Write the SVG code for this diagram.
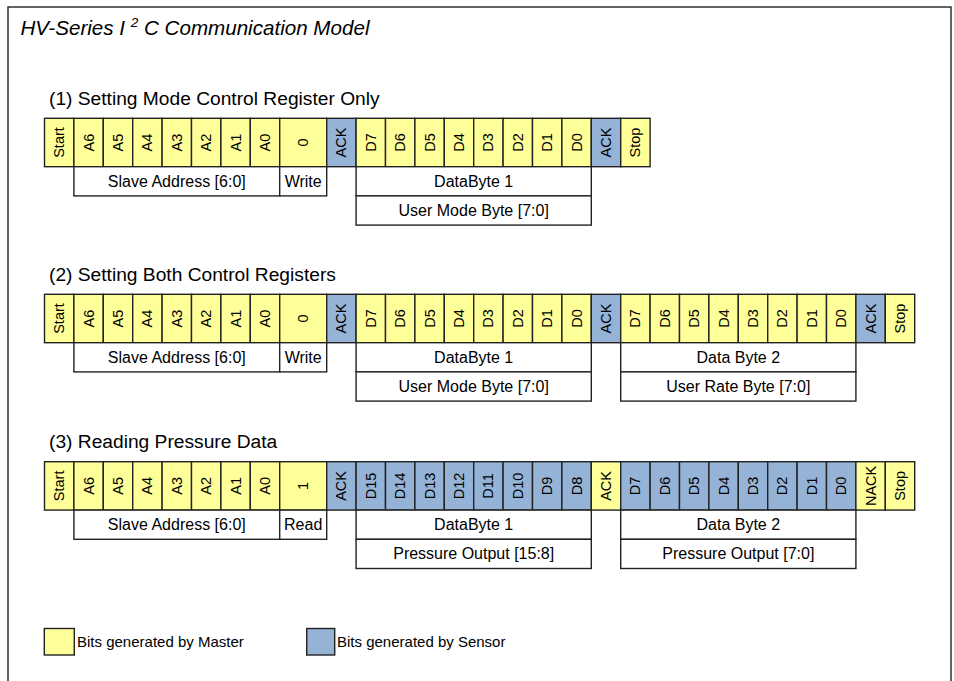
<svg xmlns="http://www.w3.org/2000/svg" width="954" height="681" viewBox="0 0 954 681">
<style>
rect{stroke:#222;stroke-width:1.4}
.m{fill:#ffff99}
.s{fill:#95b3d7}
.w{fill:#fff}
text{font-family:"Liberation Sans",Arial,sans-serif;fill:#000}
.c{font-size:14.5px;text-anchor:middle;dominant-baseline:central}
.l{font-size:16px;text-anchor:middle}
.h{font-size:19.2px}
.g{font-size:15px}
</style>
<rect x="8" y="7" width="943" height="700" fill="#fff" stroke="#333" stroke-width="1.6"/>
<text x="20.5" y="35" style="font-size:20.6px;font-style:italic">HV-Series I <tspan dy="-8" style="font-size:13.5px">2</tspan><tspan dy="8"> C Communication Model</tspan></text>

<!-- Row 1 -->
<g id="row1" transform="translate(0,118.3)">
<text class="h" x="49" y="-13">(1) Setting Mode Control Register Only</text>
<g id="r1-start"><rect class="m" x="44.5" y="0" width="29.4" height="48.4"/><text class="c" transform="translate(59.2,24.2) rotate(-90)">Start</text></g>
<g id="r1-a6"><rect class="m" x="73.9" y="0" width="29.4" height="48.4"/><text class="c" transform="translate(88.6,24.2) rotate(-90)">A6</text></g>
<g id="r1-a5"><rect class="m" x="103.3" y="0" width="29.4" height="48.4"/><text class="c" transform="translate(118,24.2) rotate(-90)">A5</text></g>
<g id="r1-a4"><rect class="m" x="132.7" y="0" width="29.4" height="48.4"/><text class="c" transform="translate(147.4,24.2) rotate(-90)">A4</text></g>
<g id="r1-a3"><rect class="m" x="162.1" y="0" width="29.4" height="48.4"/><text class="c" transform="translate(176.8,24.2) rotate(-90)">A3</text></g>
<g id="r1-a2"><rect class="m" x="191.5" y="0" width="29.4" height="48.4"/><text class="c" transform="translate(206.2,24.2) rotate(-90)">A2</text></g>
<g id="r1-a1"><rect class="m" x="220.9" y="0" width="29.4" height="48.4"/><text class="c" transform="translate(235.6,24.2) rotate(-90)">A1</text></g>
<g id="r1-a0"><rect class="m" x="250.3" y="0" width="29.4" height="48.4"/><text class="c" transform="translate(265,24.2) rotate(-90)">A0</text></g>
<g id="r1-rw"><rect class="m" x="279.7" y="0" width="47" height="48.4"/><text class="c" transform="translate(303.2,24.2) rotate(-90)">0</text></g>
<g id="r1-ack1"><rect class="s" x="326.7" y="0" width="29.4" height="48.4"/><text class="c" transform="translate(341.4,24.2) rotate(-90)">ACK</text></g>
<g id="r1-d7"><rect class="m" x="356.1" y="0" width="29.4" height="48.4"/><text class="c" transform="translate(370.8,24.2) rotate(-90)">D7</text></g>
<g id="r1-d6"><rect class="m" x="385.5" y="0" width="29.4" height="48.4"/><text class="c" transform="translate(400.2,24.2) rotate(-90)">D6</text></g>
<g id="r1-d5"><rect class="m" x="414.9" y="0" width="29.4" height="48.4"/><text class="c" transform="translate(429.6,24.2) rotate(-90)">D5</text></g>
<g id="r1-d4"><rect class="m" x="444.3" y="0" width="29.4" height="48.4"/><text class="c" transform="translate(459,24.2) rotate(-90)">D4</text></g>
<g id="r1-d3"><rect class="m" x="473.7" y="0" width="29.4" height="48.4"/><text class="c" transform="translate(488.4,24.2) rotate(-90)">D3</text></g>
<g id="r1-d2"><rect class="m" x="503.1" y="0" width="29.4" height="48.4"/><text class="c" transform="translate(517.8,24.2) rotate(-90)">D2</text></g>
<g id="r1-d1"><rect class="m" x="532.5" y="0" width="29.4" height="48.4"/><text class="c" transform="translate(547.2,24.2) rotate(-90)">D1</text></g>
<g id="r1-d0"><rect class="m" x="561.9" y="0" width="29.4" height="48.4"/><text class="c" transform="translate(576.6,24.2) rotate(-90)">D0</text></g>
<g id="r1-ack2"><rect class="s" x="591.3" y="0" width="29.4" height="48.4"/><text class="c" transform="translate(606,24.2) rotate(-90)">ACK</text></g>
<g id="r1-stop"><rect class="m" x="620.7" y="0" width="29.4" height="48.4"/><text class="c" transform="translate(635.4,24.2) rotate(-90)">Stop</text></g>
<g id="r1-addr"><rect class="w" x="73.9" y="48.4" width="205.8" height="29.2"/><text class="l" x="176.8" y="68.4">Slave Address [6:0]</text></g>
<g id="r1-write"><rect class="w" x="279.7" y="48.4" width="47" height="29.2"/><text class="l" x="303.2" y="68.4">Write</text></g>
<g id="r1-db1"><rect class="w" x="356.1" y="48.4" width="235.2" height="29.2"/><text class="l" x="473.7" y="68.4">DataByte 1</text></g>
<g id="r1-umb"><rect class="w" x="356.1" y="77.6" width="235.2" height="29.2"/><text class="l" x="473.7" y="97.6">User Mode Byte [7:0]</text></g>
</g>

<!-- Row 2 -->
<g id="row2" transform="translate(0,294.3)">
<text class="h" x="49" y="-13.3">(2) Setting Both Control Registers</text>
<g id="r2-start"><rect class="m" x="44.5" y="0" width="29.4" height="48.4"/><text class="c" transform="translate(59.2,24.2) rotate(-90)">Start</text></g>
<g id="r2-a6"><rect class="m" x="73.9" y="0" width="29.4" height="48.4"/><text class="c" transform="translate(88.6,24.2) rotate(-90)">A6</text></g>
<g id="r2-a5"><rect class="m" x="103.3" y="0" width="29.4" height="48.4"/><text class="c" transform="translate(118,24.2) rotate(-90)">A5</text></g>
<g id="r2-a4"><rect class="m" x="132.7" y="0" width="29.4" height="48.4"/><text class="c" transform="translate(147.4,24.2) rotate(-90)">A4</text></g>
<g id="r2-a3"><rect class="m" x="162.1" y="0" width="29.4" height="48.4"/><text class="c" transform="translate(176.8,24.2) rotate(-90)">A3</text></g>
<g id="r2-a2"><rect class="m" x="191.5" y="0" width="29.4" height="48.4"/><text class="c" transform="translate(206.2,24.2) rotate(-90)">A2</text></g>
<g id="r2-a1"><rect class="m" x="220.9" y="0" width="29.4" height="48.4"/><text class="c" transform="translate(235.6,24.2) rotate(-90)">A1</text></g>
<g id="r2-a0"><rect class="m" x="250.3" y="0" width="29.4" height="48.4"/><text class="c" transform="translate(265,24.2) rotate(-90)">A0</text></g>
<g id="r2-rw"><rect class="m" x="279.7" y="0" width="47" height="48.4"/><text class="c" transform="translate(303.2,24.2) rotate(-90)">0</text></g>
<g id="r2-ack1"><rect class="s" x="326.7" y="0" width="29.4" height="48.4"/><text class="c" transform="translate(341.4,24.2) rotate(-90)">ACK</text></g>
<g id="r2-d7"><rect class="m" x="356.1" y="0" width="29.4" height="48.4"/><text class="c" transform="translate(370.8,24.2) rotate(-90)">D7</text></g>
<g id="r2-d6"><rect class="m" x="385.5" y="0" width="29.4" height="48.4"/><text class="c" transform="translate(400.2,24.2) rotate(-90)">D6</text></g>
<g id="r2-d5"><rect class="m" x="414.9" y="0" width="29.4" height="48.4"/><text class="c" transform="translate(429.6,24.2) rotate(-90)">D5</text></g>
<g id="r2-d4"><rect class="m" x="444.3" y="0" width="29.4" height="48.4"/><text class="c" transform="translate(459,24.2) rotate(-90)">D4</text></g>
<g id="r2-d3"><rect class="m" x="473.7" y="0" width="29.4" height="48.4"/><text class="c" transform="translate(488.4,24.2) rotate(-90)">D3</text></g>
<g id="r2-d2"><rect class="m" x="503.1" y="0" width="29.4" height="48.4"/><text class="c" transform="translate(517.8,24.2) rotate(-90)">D2</text></g>
<g id="r2-d1"><rect class="m" x="532.5" y="0" width="29.4" height="48.4"/><text class="c" transform="translate(547.2,24.2) rotate(-90)">D1</text></g>
<g id="r2-d0"><rect class="m" x="561.9" y="0" width="29.4" height="48.4"/><text class="c" transform="translate(576.6,24.2) rotate(-90)">D0</text></g>
<g id="r2-ack2"><rect class="s" x="591.3" y="0" width="29.4" height="48.4"/><text class="c" transform="translate(606,24.2) rotate(-90)">ACK</text></g>
<g id="r2-e7"><rect class="m" x="620.7" y="0" width="29.4" height="48.4"/><text class="c" transform="translate(635.4,24.2) rotate(-90)">D7</text></g>
<g id="r2-e6"><rect class="m" x="650.1" y="0" width="29.4" height="48.4"/><text class="c" transform="translate(664.8,24.2) rotate(-90)">D6</text></g>
<g id="r2-e5"><rect class="m" x="679.5" y="0" width="29.4" height="48.4"/><text class="c" transform="translate(694.2,24.2) rotate(-90)">D5</text></g>
<g id="r2-e4"><rect class="m" x="708.9" y="0" width="29.4" height="48.4"/><text class="c" transform="translate(723.6,24.2) rotate(-90)">D4</text></g>
<g id="r2-e3"><rect class="m" x="738.3" y="0" width="29.4" height="48.4"/><text class="c" transform="translate(753,24.2) rotate(-90)">D3</text></g>
<g id="r2-e2"><rect class="m" x="767.7" y="0" width="29.4" height="48.4"/><text class="c" transform="translate(782.4,24.2) rotate(-90)">D2</text></g>
<g id="r2-e1"><rect class="m" x="797.1" y="0" width="29.4" height="48.4"/><text class="c" transform="translate(811.8,24.2) rotate(-90)">D1</text></g>
<g id="r2-e0"><rect class="m" x="826.5" y="0" width="29.4" height="48.4"/><text class="c" transform="translate(841.2,24.2) rotate(-90)">D0</text></g>
<g id="r2-ack3"><rect class="s" x="855.9" y="0" width="29.4" height="48.4"/><text class="c" transform="translate(870.6,24.2) rotate(-90)">ACK</text></g>
<g id="r2-stop"><rect class="m" x="885.3" y="0" width="29.4" height="48.4"/><text class="c" transform="translate(900,24.2) rotate(-90)">Stop</text></g>
<g id="r2-addr"><rect class="w" x="73.9" y="48.4" width="205.8" height="29.2"/><text class="l" x="176.8" y="68.4">Slave Address [6:0]</text></g>
<g id="r2-write"><rect class="w" x="279.7" y="48.4" width="47" height="29.2"/><text class="l" x="303.2" y="68.4">Write</text></g>
<g id="r2-db1"><rect class="w" x="356.1" y="48.4" width="235.2" height="29.2"/><text class="l" x="473.7" y="68.4">DataByte 1</text></g>
<g id="r2-umb"><rect class="w" x="356.1" y="77.6" width="235.2" height="29.2"/><text class="l" x="473.7" y="97.6">User Mode Byte [7:0]</text></g>
<g id="r2-db2"><rect class="w" x="620.7" y="48.4" width="235.2" height="29.2"/><text class="l" x="738.3" y="68.4">Data Byte 2</text></g>
<g id="r2-urb"><rect class="w" x="620.7" y="77.6" width="235.2" height="29.2"/><text class="l" x="738.3" y="97.6">User Rate Byte [7:0]</text></g>
</g>

<!-- Row 3 -->
<g id="row3" transform="translate(0,461.7)">
<text class="h" x="49" y="-13.7">(3) Reading Pressure Data</text>
<g id="r3-start"><rect class="m" x="44.5" y="0" width="29.4" height="48.4"/><text class="c" transform="translate(59.2,24.2) rotate(-90)">Start</text></g>
<g id="r3-a6"><rect class="m" x="73.9" y="0" width="29.4" height="48.4"/><text class="c" transform="translate(88.6,24.2) rotate(-90)">A6</text></g>
<g id="r3-a5"><rect class="m" x="103.3" y="0" width="29.4" height="48.4"/><text class="c" transform="translate(118,24.2) rotate(-90)">A5</text></g>
<g id="r3-a4"><rect class="m" x="132.7" y="0" width="29.4" height="48.4"/><text class="c" transform="translate(147.4,24.2) rotate(-90)">A4</text></g>
<g id="r3-a3"><rect class="m" x="162.1" y="0" width="29.4" height="48.4"/><text class="c" transform="translate(176.8,24.2) rotate(-90)">A3</text></g>
<g id="r3-a2"><rect class="m" x="191.5" y="0" width="29.4" height="48.4"/><text class="c" transform="translate(206.2,24.2) rotate(-90)">A2</text></g>
<g id="r3-a1"><rect class="m" x="220.9" y="0" width="29.4" height="48.4"/><text class="c" transform="translate(235.6,24.2) rotate(-90)">A1</text></g>
<g id="r3-a0"><rect class="m" x="250.3" y="0" width="29.4" height="48.4"/><text class="c" transform="translate(265,24.2) rotate(-90)">A0</text></g>
<g id="r3-rw"><rect class="m" x="279.7" y="0" width="47" height="48.4"/><text class="c" transform="translate(303.2,24.2) rotate(-90)">1</text></g>
<g id="r3-ack1"><rect class="s" x="326.7" y="0" width="29.4" height="48.4"/><text class="c" transform="translate(341.4,24.2) rotate(-90)">ACK</text></g>
<g id="r3-d15"><rect class="s" x="356.1" y="0" width="29.4" height="48.4"/><text class="c" transform="translate(370.8,24.2) rotate(-90)">D15</text></g>
<g id="r3-d14"><rect class="s" x="385.5" y="0" width="29.4" height="48.4"/><text class="c" transform="translate(400.2,24.2) rotate(-90)">D14</text></g>
<g id="r3-d13"><rect class="s" x="414.9" y="0" width="29.4" height="48.4"/><text class="c" transform="translate(429.6,24.2) rotate(-90)">D13</text></g>
<g id="r3-d12"><rect class="s" x="444.3" y="0" width="29.4" height="48.4"/><text class="c" transform="translate(459,24.2) rotate(-90)">D12</text></g>
<g id="r3-d11"><rect class="s" x="473.7" y="0" width="29.4" height="48.4"/><text class="c" transform="translate(488.4,24.2) rotate(-90)">D11</text></g>
<g id="r3-d10"><rect class="s" x="503.1" y="0" width="29.4" height="48.4"/><text class="c" transform="translate(517.8,24.2) rotate(-90)">D10</text></g>
<g id="r3-d9"><rect class="s" x="532.5" y="0" width="29.4" height="48.4"/><text class="c" transform="translate(547.2,24.2) rotate(-90)">D9</text></g>
<g id="r3-d8"><rect class="s" x="561.9" y="0" width="29.4" height="48.4"/><text class="c" transform="translate(576.6,24.2) rotate(-90)">D8</text></g>
<g id="r3-ack2"><rect class="m" x="591.3" y="0" width="29.4" height="48.4"/><text class="c" transform="translate(606,24.2) rotate(-90)">ACK</text></g>
<g id="r3-d7"><rect class="s" x="620.7" y="0" width="29.4" height="48.4"/><text class="c" transform="translate(635.4,24.2) rotate(-90)">D7</text></g>
<g id="r3-d6"><rect class="s" x="650.1" y="0" width="29.4" height="48.4"/><text class="c" transform="translate(664.8,24.2) rotate(-90)">D6</text></g>
<g id="r3-d5"><rect class="s" x="679.5" y="0" width="29.4" height="48.4"/><text class="c" transform="translate(694.2,24.2) rotate(-90)">D5</text></g>
<g id="r3-d4"><rect class="s" x="708.9" y="0" width="29.4" height="48.4"/><text class="c" transform="translate(723.6,24.2) rotate(-90)">D4</text></g>
<g id="r3-d3"><rect class="s" x="738.3" y="0" width="29.4" height="48.4"/><text class="c" transform="translate(753,24.2) rotate(-90)">D3</text></g>
<g id="r3-d2"><rect class="s" x="767.7" y="0" width="29.4" height="48.4"/><text class="c" transform="translate(782.4,24.2) rotate(-90)">D2</text></g>
<g id="r3-d1"><rect class="s" x="797.1" y="0" width="29.4" height="48.4"/><text class="c" transform="translate(811.8,24.2) rotate(-90)">D1</text></g>
<g id="r3-d0"><rect class="s" x="826.5" y="0" width="29.4" height="48.4"/><text class="c" transform="translate(841.2,24.2) rotate(-90)">D0</text></g>
<g id="r3-nack"><rect class="m" x="855.9" y="0" width="29.4" height="48.4"/><text class="c" transform="translate(870.6,24.2) rotate(-90)">NACK</text></g>
<g id="r3-stop"><rect class="m" x="885.3" y="0" width="29.4" height="48.4"/><text class="c" transform="translate(900,24.2) rotate(-90)">Stop</text></g>
<g id="r3-addr"><rect class="w" x="73.9" y="48.4" width="205.8" height="29.2"/><text class="l" x="176.8" y="68.4">Slave Address [6:0]</text></g>
<g id="r3-read"><rect class="w" x="279.7" y="48.4" width="47" height="29.2"/><text class="l" x="303.2" y="68.4">Read</text></g>
<g id="r3-db1"><rect class="w" x="356.1" y="48.4" width="235.2" height="29.2"/><text class="l" x="473.7" y="68.4">DataByte 1</text></g>
<g id="r3-po1"><rect class="w" x="356.1" y="77.6" width="235.2" height="29.2"/><text class="l" x="473.7" y="97.6">Pressure Output [15:8]</text></g>
<g id="r3-db2"><rect class="w" x="620.7" y="48.4" width="235.2" height="29.2"/><text class="l" x="738.3" y="68.4">Data Byte 2</text></g>
<g id="r3-po2"><rect class="w" x="620.7" y="77.6" width="235.2" height="29.2"/><text class="l" x="738.3" y="97.6">Pressure Output [7:0]</text></g>
</g>

<!-- Legend -->
<g id="legend-master"><rect class="m" x="44.3" y="628.5" width="30" height="26.5"/><text class="g" x="77" y="647">Bits generated by Master</text></g>
<g id="legend-sensor"><rect class="s" x="306.7" y="628.5" width="28" height="26.5"/><text class="g" x="337" y="647">Bits generated by Sensor</text></g>
<g id="connectors"></g>
</svg>
